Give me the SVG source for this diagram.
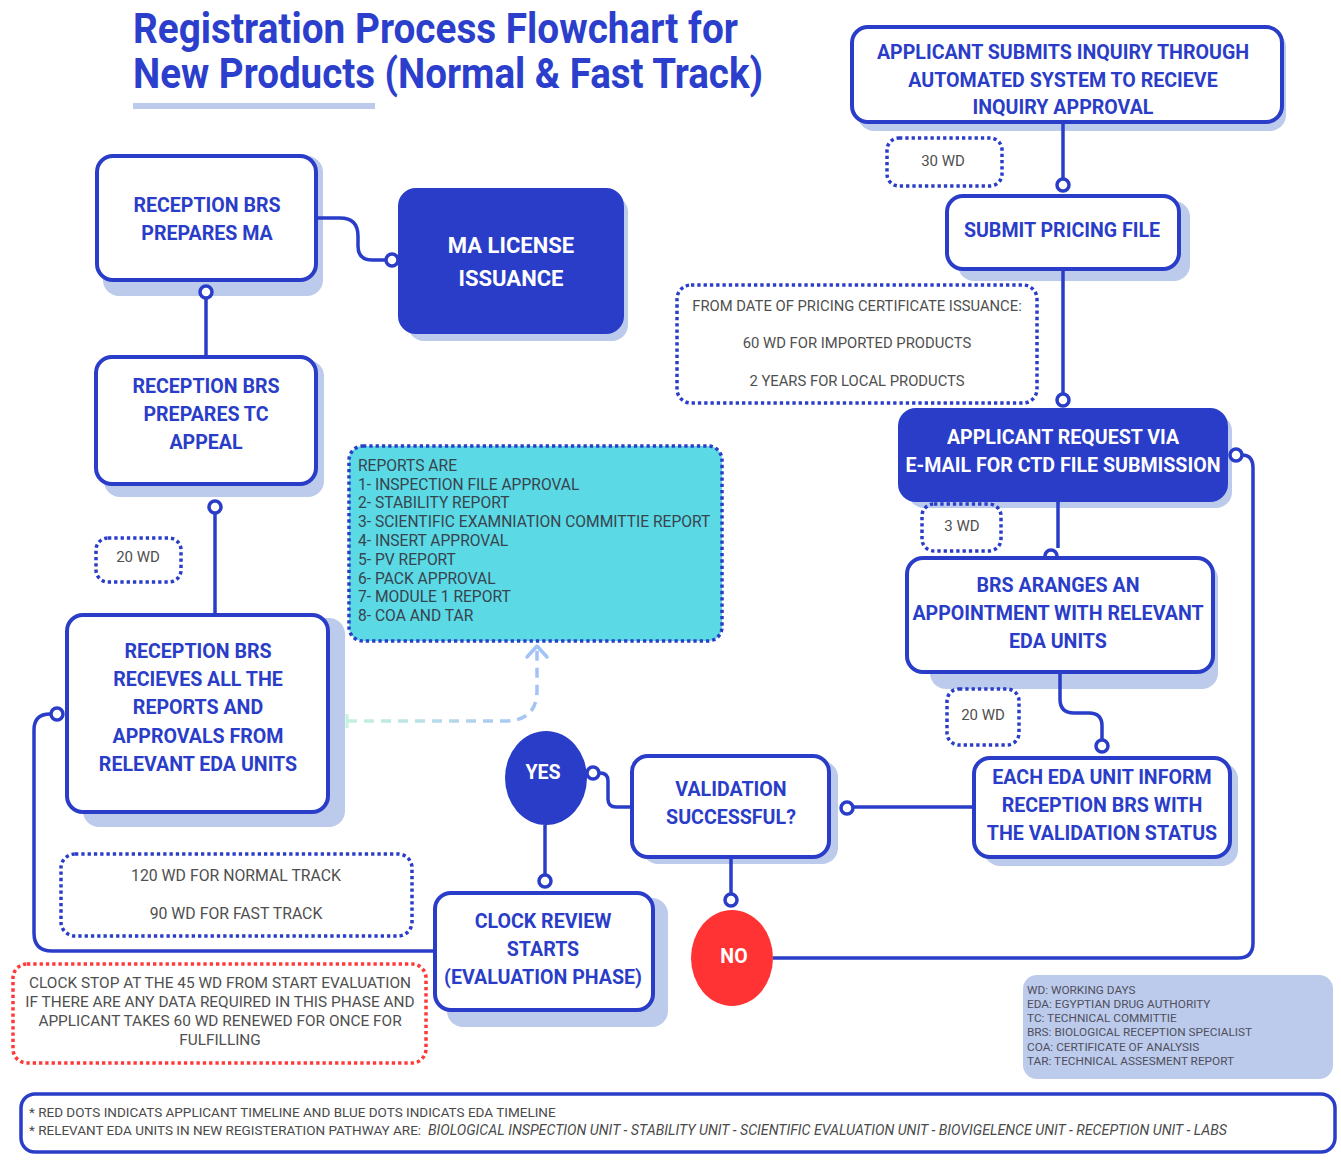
<svg xmlns="http://www.w3.org/2000/svg" width="1341" height="1166" viewBox="0 0 1341 1166">
  <defs>
    <style>
      .title { font-family: Roboto, "Liberation Sans", sans-serif; font-weight: 700; font-size: 42px; fill: #2b3fcc; }
      .box { fill: #ffffff; stroke: #2a3dc8; stroke-width: 4; }
      .boxfill { fill: #2a3dc8; stroke: #2a3dc8; stroke-width: 4; }
      .shadow { fill: #bccbec; }
      .lbl { font-family: Roboto, "Liberation Sans", sans-serif; font-weight: 700; font-size: 19.6px; fill: #2a3dc8; text-anchor: middle; dominant-baseline: central; }
      .lblw { font-family: Roboto, "Liberation Sans", sans-serif; font-weight: 700; font-size: 19.6px; fill: #ffffff; text-anchor: middle; dominant-baseline: central; }
      .note { fill: none; stroke: #2a3dc8; stroke-width: 3.5; stroke-dasharray: 3.3 3; }
      .notered { fill: none; stroke: #ff3838; stroke-width: 3.5; stroke-dasharray: 3.3 3; }
      .ntxt { font-family: Roboto, "Liberation Sans", sans-serif; font-size: 14.8px; fill: #4f4f4f; text-anchor: middle; dominant-baseline: central; }
      .wire { fill: none; stroke: #2a3dc8; stroke-width: 3.5; }
      .dot { fill: #ffffff; stroke: #2a3dc8; stroke-width: 3.5; }
      .rep { font-family: Roboto, "Liberation Sans", sans-serif; font-size: 15.6px; fill: #37444f; }
      .leg { font-family: Roboto, "Liberation Sans", sans-serif; font-size: 11.8px; fill: #4f4f5c; dominant-baseline: central; }
      .foot { font-family: Roboto, "Liberation Sans", sans-serif; font-size: 13.5px; fill: #4a4a4a; dominant-baseline: central; }
    </style>
    <linearGradient id="fade" gradientUnits="userSpaceOnUse" x1="345" y1="0" x2="540" y2="0">
      <stop offset="0" stop-color="#c6f3dc"/>
      <stop offset="1" stop-color="#a3c2f6"/>
    </linearGradient>
  </defs>

  <rect width="1341" height="1166" fill="#ffffff"/>

  <!-- heading -->
  <g id="title">
    <text class="title" x="133" y="43" textLength="605" lengthAdjust="spacingAndGlyphs">Registration Process Flowchart for</text>
    <text class="title" x="133" y="88" textLength="630" lengthAdjust="spacingAndGlyphs">New Products (Normal &amp; Fast Track)</text>
    <rect x="133" y="103" width="242" height="6" fill="#bccbec"/>
  </g>

  <!-- nodes -->
  <g id="node-inquiry">
    <rect class="shadow" x="858" y="31" width="428" height="100" rx="16"/>
    <rect class="box" x="852" y="27" width="430" height="95" rx="16"/>
    <text class="lbl" x="1063" y="52">APPLICANT SUBMITS INQUIRY THROUGH</text>
    <text class="lbl" x="1063" y="80">AUTOMATED SYSTEM TO RECIEVE</text>
    <text class="lbl" x="1063" y="107">INQUIRY APPROVAL</text>
  </g>

  <g id="node-pricing">
    <rect class="shadow" x="958" y="201" width="232" height="80" rx="16"/>
    <rect class="box" x="947" y="196" width="232" height="73" rx="16"/>
    <text class="lbl" x="1062" y="230">SUBMIT PRICING FILE</text>
  </g>

  <g id="node-ctd-request">
    <rect class="shadow" x="908" y="415" width="324" height="93" rx="16"/>
    <rect class="boxfill" x="900" y="410" width="326" height="90" rx="16"/>
    <text class="lblw" x="1063" y="437">APPLICANT REQUEST VIA</text>
    <text class="lblw" x="1063" y="465">E-MAIL FOR CTD FILE SUBMISSION</text>
  </g>

  <g id="node-appointment">
    <rect class="shadow" x="930" y="563" width="288" height="126" rx="16"/>
    <rect class="box" x="907" y="558" width="306" height="114" rx="16"/>
    <text class="lbl" x="1058" y="585">BRS ARANGES AN</text>
    <text class="lbl" x="1058" y="613">APPOINTMENT WITH RELEVANT</text>
    <text class="lbl" x="1058" y="641">EDA UNITS</text>
  </g>

  <g id="node-unit-inform">
    <rect class="shadow" x="984" y="763" width="254" height="103" rx="16"/>
    <rect class="box" x="974" y="758" width="256" height="99" rx="16"/>
    <text class="lbl" x="1102" y="777">EACH EDA UNIT INFORM</text>
    <text class="lbl" x="1102" y="805">RECEPTION BRS WITH</text>
    <text class="lbl" x="1102" y="833">THE VALIDATION STATUS</text>
  </g>

  <g id="node-validation">
    <rect class="shadow" x="642" y="761" width="196" height="103" rx="16"/>
    <rect class="box" x="632" y="756" width="197" height="101" rx="16"/>
    <text class="lbl" x="731" y="789">VALIDATION</text>
    <text class="lbl" x="731" y="817">SUCCESSFUL?</text>
  </g>

  <g id="node-yes">
    <ellipse cx="546" cy="778" rx="41" ry="47" fill="#2a3dc8"/>
    <text class="lblw" x="543" y="772">YES</text>
  </g>

  <g id="node-no">
    <ellipse cx="732" cy="958" rx="41" ry="48" fill="#ff3333"/>
    <text class="lblw" x="734" y="956">NO</text>
  </g>

  <g id="node-clock">
    <rect class="shadow" x="447" y="898" width="221" height="129" rx="16"/>
    <rect class="box" x="435" y="893" width="218" height="117" rx="16"/>
    <text class="lbl" x="543" y="921">CLOCK REVIEW</text>
    <text class="lbl" x="543" y="949">STARTS</text>
    <text class="lbl" x="543" y="977">(EVALUATION PHASE)</text>
  </g>

  <g id="node-receives">
    <rect class="shadow" x="83" y="618" width="262" height="209" rx="16"/>
    <rect class="box" x="67" y="615" width="261" height="197" rx="16"/>
    <text class="lbl" x="198" y="651">RECEPTION BRS</text>
    <text class="lbl" x="198" y="679">RECIEVES ALL THE</text>
    <text class="lbl" x="198" y="707">REPORTS AND</text>
    <text class="lbl" x="198" y="736">APPROVALS FROM</text>
    <text class="lbl" x="198" y="764">RELEVANT EDA UNITS</text>
  </g>

  <g id="node-tc-appeal">
    <rect class="shadow" x="104" y="360" width="220" height="137" rx="16"/>
    <rect class="box" x="96" y="357" width="220" height="127" rx="16"/>
    <text class="lbl" x="206" y="386">RECEPTION BRS</text>
    <text class="lbl" x="206" y="414">PREPARES TC</text>
    <text class="lbl" x="206" y="442">APPEAL</text>
  </g>

  <g id="node-prepares-ma">
    <rect class="shadow" x="103" y="156" width="220" height="140" rx="16"/>
    <rect class="box" x="97" y="156" width="219" height="124" rx="16"/>
    <text class="lbl" x="207" y="205">RECEPTION BRS</text>
    <text class="lbl" x="207" y="233">PREPARES MA</text>
  </g>

  <g id="node-ma-license">
    <rect class="shadow" x="408" y="196" width="220" height="145" rx="16"/>
    <rect class="boxfill" x="400" y="190" width="222" height="142" rx="16"/>
    <text class="lblw" x="511" y="245" style="font-size:22px">MA LICENSE</text>
    <text class="lblw" x="511" y="278" style="font-size:22px">ISSUANCE</text>
  </g>

  <!-- connectors (drawn over the box shadows) -->
  <g id="connectors">
    <path class="wire" d="M1063,122 V179"/>
    <circle class="dot" cx="1063" cy="185" r="6"/>
    <path class="wire" d="M1063,269 V394"/>
    <circle class="dot" cx="1063" cy="400" r="6"/>
    <path class="wire" d="M1058,502 V548"/>
    <path class="wire" d="M1045,556 A6,6 0 0 1 1057,556"/>
    <path class="wire" d="M1060,674 V699 Q1060,713 1074,713 H1089 Q1102,713 1102,726 V740"/>
    <circle class="dot" cx="1102" cy="746" r="6"/>
    <path class="wire" d="M972,807 H853"/>
    <circle class="dot" cx="847" cy="808" r="6"/>
    <path class="wire" d="M630,807 H616 Q608,807 608,799 V781 Q608,773 600,773"/>
    <circle class="dot" cx="593" cy="773" r="6"/>
    <path class="wire" d="M545,825 V875"/>
    <circle class="dot" cx="545" cy="881" r="6"/>
    <path class="wire" d="M731,859 V894"/>
    <circle class="dot" cx="731" cy="900" r="6"/>
    <path class="wire" d="M773,958 H1238 Q1253,958 1253,943 V468 Q1253,455 1242,455"/>
    <circle class="dot" cx="1236" cy="455" r="6"/>
    <path class="wire" d="M433,951 H52 Q34,951 34,933 V730 Q34,714 50,714"/>
    <circle class="dot" cx="57" cy="714" r="6"/>
    <path class="wire" d="M215,613 V513"/>
    <circle class="dot" cx="215" cy="507" r="6"/>
    <path class="wire" d="M206,355 V298"/>
    <circle class="dot" cx="206" cy="292" r="6"/>
    <path class="wire" d="M318,218 H340 Q358,218 358,236 V246 Q358,260 372,260 H386"/>
    <circle class="dot" cx="392" cy="260" r="6"/>
    <!-- dashed link to the report list -->
    <path d="M347,714 V728" fill="none" stroke="#c6f3dc" stroke-width="3"/>
    <path d="M347,721 H505 Q537,721 537,690 V648" fill="none" stroke="url(#fade)" stroke-width="3.5" stroke-dasharray="10 7"/>
    <path d="M527,657 L537,646 L547,657" fill="none" stroke="#a3c2f6" stroke-width="3.5" stroke-linecap="round" stroke-linejoin="round"/>
  </g>

  <!-- timing notes -->
  <g id="note-30wd">
    <rect class="note" x="887" y="138" width="115" height="48" rx="12"/>
    <text class="ntxt" x="943" y="161" style="font-size:15px">30 WD</text>
  </g>

  <g id="note-pricing-validity">
    <rect class="note" x="677" y="285" width="360" height="118" rx="14"/>
    <text class="ntxt" x="857" y="306">FROM DATE OF PRICING CERTIFICATE ISSUANCE:</text>
    <text class="ntxt" x="857" y="343">60 WD FOR IMPORTED PRODUCTS</text>
    <text class="ntxt" x="857" y="381">2 YEARS FOR LOCAL PRODUCTS</text>
  </g>

  <g id="note-3wd">
    <rect class="note" x="922" y="504" width="79" height="47" rx="12"/>
    <text class="ntxt" x="962" y="526" style="font-size:15px">3 WD</text>
  </g>

  <g id="note-20wd-right">
    <rect class="note" x="947" y="689" width="72" height="56" rx="12"/>
    <text class="ntxt" x="983" y="715" style="font-size:15px">20 WD</text>
  </g>

  <g id="note-20wd-left">
    <rect class="note" x="96" y="538" width="85" height="44" rx="12"/>
    <text class="ntxt" x="138" y="557" style="font-size:15px">20 WD</text>
  </g>

  <g id="note-tracks">
    <rect class="note" x="61" y="854" width="351" height="82" rx="14"/>
    <text class="ntxt" x="236" y="875" style="font-size:15.8px">120 WD FOR NORMAL TRACK</text>
    <text class="ntxt" x="236" y="913" style="font-size:15.8px">90 WD FOR FAST TRACK</text>
  </g>

  <g id="note-clock-stop">
    <rect class="notered" x="13" y="964" width="413" height="99" rx="14"/>
    <text class="ntxt" x="220" y="983" style="font-size:15.4px">CLOCK STOP AT THE 45 WD FROM START EVALUATION</text>
    <text class="ntxt" x="220" y="1002" style="font-size:15.4px">IF THERE ARE ANY DATA REQUIRED IN THIS PHASE AND</text>
    <text class="ntxt" x="220" y="1021" style="font-size:15.4px">APPLICANT TAKES 60 WD RENEWED FOR ONCE FOR</text>
    <text class="ntxt" x="220" y="1040" style="font-size:15.4px">FULFILLING</text>
  </g>

  <g id="note-reports">
    <rect x="349" y="446" width="373" height="195" rx="14" fill="#5bd9e4" stroke="#2a3dc8" stroke-width="3.5" stroke-dasharray="3.3 3"/>
    <text class="rep" x="358" y="471">REPORTS ARE</text>
    <text class="rep" x="358" y="489.5">1- INSPECTION FILE APPROVAL</text>
    <text class="rep" x="358" y="508">2- STABILITY REPORT</text>
    <text class="rep" x="358" y="527">3- SCIENTIFIC EXAMNIATION COMMITTIE REPORT</text>
    <text class="rep" x="358" y="546">4- INSERT APPROVAL</text>
    <text class="rep" x="358" y="565">5- PV REPORT</text>
    <text class="rep" x="358" y="583.5">6- PACK APPROVAL</text>
    <text class="rep" x="358" y="602">7- MODULE 1 REPORT</text>
    <text class="rep" x="358" y="621">8- COA AND TAR</text>
  </g>

  <!-- abbreviations -->
  <g id="legend">
    <rect x="1023" y="975" width="310" height="104" rx="14" fill="#bccbec"/>
    <text class="leg" x="1027" y="990">WD: WORKING DAYS</text>
    <text class="leg" x="1027" y="1004">EDA: EGYPTIAN DRUG AUTHORITY</text>
    <text class="leg" x="1027" y="1018">TC: TECHNICAL COMMITTIE</text>
    <text class="leg" x="1027" y="1032">BRS: BIOLOGICAL RECEPTION SPECIALIST</text>
    <text class="leg" x="1027" y="1047">COA: CERTIFICATE OF ANALYSIS</text>
    <text class="leg" x="1027" y="1061">TAR: TECHNICAL ASSESMENT REPORT</text>
  </g>

  <!-- footnotes -->
  <g id="footer">
    <rect x="21" y="1094" width="1314" height="58" rx="14" fill="#ffffff" stroke="#2a3dc8" stroke-width="3.5"/>
    <text class="foot" x="29" y="1112">* RED DOTS INDICATS APPLICANT TIMELINE AND BLUE DOTS INDICATS EDA TIMELINE</text>
    <text class="foot" x="29" y="1130">* RELEVANT EDA UNITS IN NEW REGISTERATION PATHWAY ARE:</text>
    <text class="foot" x="428" y="1130" font-style="italic" style="font-size:14.2px">BIOLOGICAL INSPECTION UNIT - STABILITY UNIT - SCIENTIFIC EVALUATION UNIT - BIOVIGELENCE UNIT - RECEPTION UNIT - LABS</text>
  </g>
</svg>
